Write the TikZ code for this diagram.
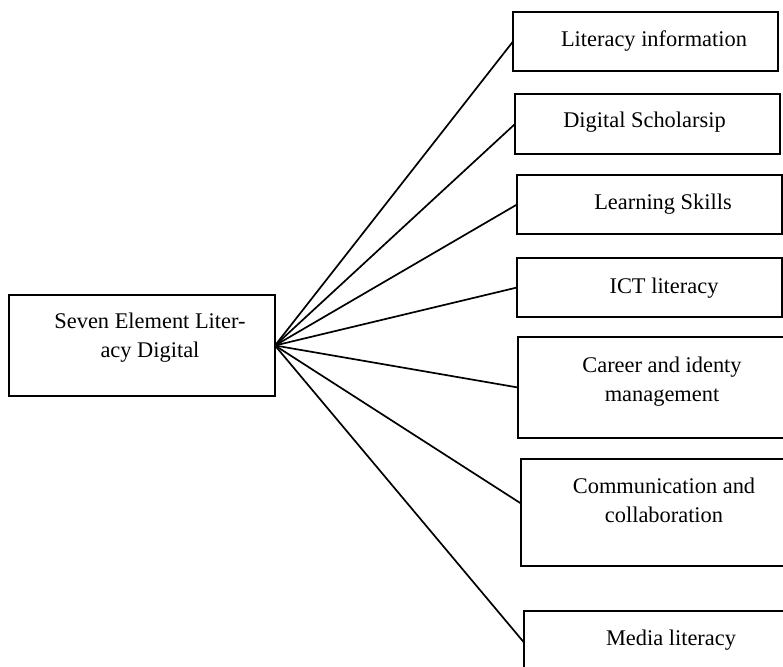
\documentclass[tikz,border=0pt]{standalone}
\usepackage{fontspec}
\setmainfont{Liberation Serif}
\usetikzlibrary{positioning,shapes}

\begin{document}
\begin{tikzpicture}[x = 1pt, y = -1pt, every node/.style={font=\fontsize{22.4}{29}\selectfont},
  element/.style={rectangle,draw,line width=1.9pt,inner sep=0pt,outer sep=0pt},
  caption/.style={align=center,anchor=base,inner sep=0pt},
  spoke/.style={line width=1.7pt}]
\useasboundingbox (0,0) rectangle (783,666);
\clip (0,0) rectangle (783,666);
\node[element,minimum width=266pt,minimum height=101pt] (digital) at (142,345.5) {};
\node[caption] (digitaltext) at (150,357) {Seven Element Liter-\\acy Digital};
\node[element,minimum width=265pt,minimum height=59pt] (information) at (645.5,41.5) {};
\node[caption] (informationtext) at (654,47) {Literacy information};
\node[element,minimum width=265pt,minimum height=60pt] (scholarship) at (647.5,124) {};
\node[caption] (scholarshiptext) at (644.5,128) {Digital Scholarsip};
\node[element,minimum width=265pt,minimum height=59pt] (learning) at (649.5,204.5) {};
\node[caption] (learningtext) at (663,209) {Learning Skills};
\node[element,minimum width=265pt,minimum height=59pt] (ict) at (649.5,287.5) {};
\node[caption] (icttext) at (664,293) {ICT literacy};
\node[element,minimum width=277pt,minimum height=101pt] (career) at (656.5,387.5) {};
\node[caption] (careertext) at (662,401) {Career and identy\\management};
\node[element,minimum width=274pt,minimum height=107pt] (communication) at (658,512.5) {};
\node[caption] (communicationtext) at (664,522) {Communication and\\collaboration};
\node[element,minimum width=271pt,minimum height=69pt] (media) at (659.5,645.5) {};
\node[caption] (mediatext) at (671,645) {Media literacy};
\draw[spoke] (digital.east) -- (information.west);
\draw[spoke] (digital.east) -- (scholarship.west);
\draw[spoke] (digital.east) -- (learning.west);
\draw[spoke] (digital.east) -- (ict.west);
\draw[spoke] (digital.east) -- (career.west);
\draw[spoke] (digital.east) -- ([yshift=9pt]communication.west);
\draw[spoke] (digital.east) -- ([yshift=3pt]media.west);
\end{tikzpicture}
\end{document}
